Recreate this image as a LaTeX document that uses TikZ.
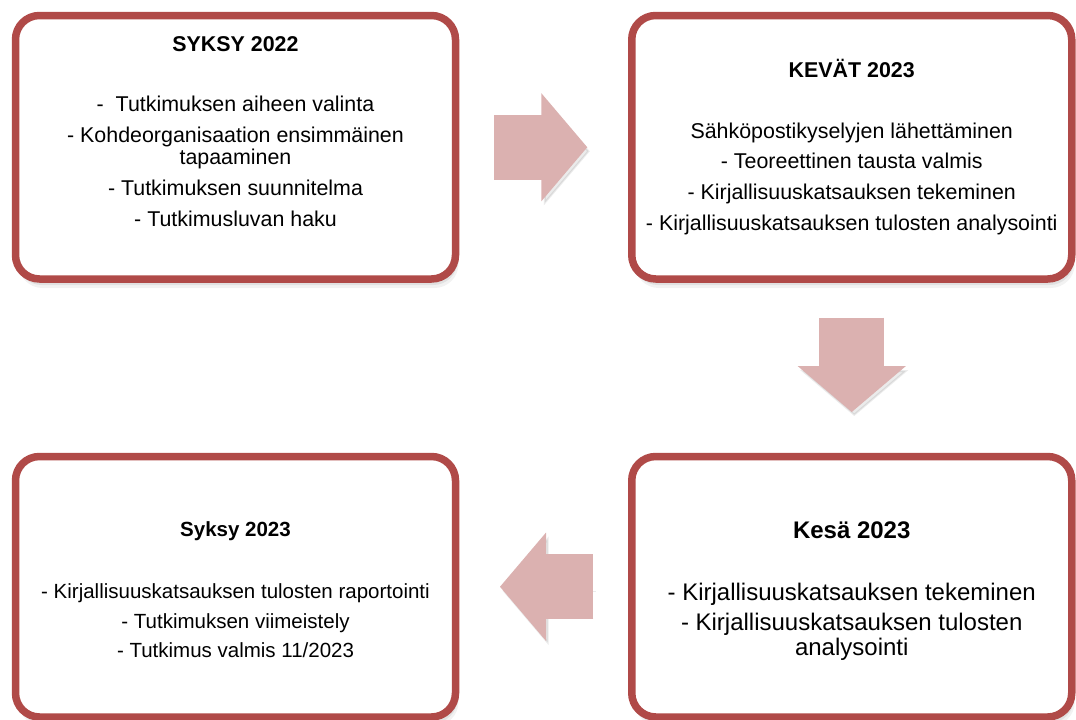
\documentclass[tikz,border=0pt]{standalone}
\usepackage{fontspec}
\setmainfont{Liberation Sans}
\usetikzlibrary{positioning,shadows,arrows.meta}

\definecolor{boxred}{HTML}{B04A48}
\definecolor{arrowpink}{HTML}{DBB1B0}

\tikzset{
  phase/.style={draw=boxred, line width=7.5pt, fill=white, rounded corners=24pt,
    minimum width=440pt, outer sep=0pt, inner sep=0pt,
    drop shadow={shadow xshift=3pt, shadow yshift=-9pt, opacity=.1},
    drop shadow={shadow xshift=2pt, shadow yshift=-6pt, opacity=.15}},
  phasetext/.style={align=center, inner sep=0pt, font=\fontsize{21.4}{22}\selectfont},
  flow/.style={draw=arrowpink, line width=65pt, line cap=butt,
    shorten <=38.5pt, shorten >=44.5pt,
    -{Triangle[length=46pt, width=108pt, line width=2pt]},
    preaction={draw=black, opacity=.08, transform canvas={xshift=2.5pt, yshift=-4pt}}}
}

\begin{document}
\begin{tikzpicture}[x=1pt, y=1pt, node distance=439.5pt and 616.25pt, on grid]
\useasboundingbox (0,0) rectangle (1076,-720);

% the four phases
\node[phase, minimum height=263.5pt] (s22) at (235.5,-147.25) {};
\node[phase, minimum height=263.5pt] (k23) [right=of s22] {};
\node[phase, minimum height=260.5pt] (ke23) [below=of k23] {};
\node[phase, minimum height=260.5pt] (sy23) [left=of ke23] {};

\node[phasetext, yshift=15.9pt] (s22txt) at (s22)
  {{\bfseries SYKSY 2022}\\[38pt]
   -~~Tutkimuksen aiheen valinta\\[9pt]
   - Kohdeorganisaation ensimmäinen\\ tapaaminen\\[9pt]
   - Tutkimuksen suunnitelma\\[9pt]
   - Tutkimusluvan haku};
\node[phasetext, yshift=0.5pt] (k23txt) at (k23)
  {{\bfseries KEVÄT 2023}\\[39pt]
   Sähköpostikyselyjen lähettäminen\\[8.6pt]
   - Teoreettinen tausta valmis\\[8.6pt]
   - Kirjallisuuskatsauksen tekeminen\\[8.6pt]
   - Kirjallisuuskatsauksen tulosten analysointi};
\node[phasetext, font=\fontsize{24}{25}\selectfont, yshift=-4.7pt] (ke23txt) at (ke23)
  {{\bfseries Kesä 2023}\\[37pt]
   - Kirjallisuuskatsauksen tekeminen\\[5pt]
   - Kirjallisuuskatsauksen tulosten\\ analysointi};
\node[phasetext, font=\fontsize{20.5}{21}\selectfont, yshift=-3.1pt] (sy23txt) at (sy23)
  {{\bfseries Syksy 2023}\\[41pt]
   - Kirjallisuuskatsauksen tulosten raportointi\\[8.5pt]
   - Tutkimuksen viimeistely\\[8.5pt]
   - Tutkimus valmis 11/2023};

% block arrows between phases
\draw[flow] (s22) -- (k23);
\draw[flow] (k23) -- (ke23);
\draw[flow] (ke23) -- (sy23);
\end{tikzpicture}
\end{document}
